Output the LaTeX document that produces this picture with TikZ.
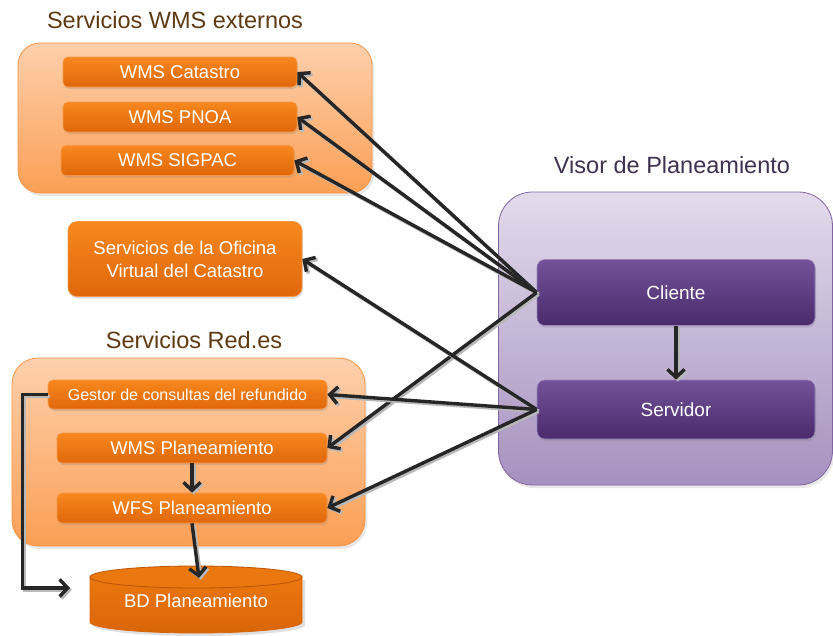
\documentclass[tikz,border=0pt]{standalone}
\usepackage{fontspec}
\setmainfont{Liberation Sans}
\usetikzlibrary{arrows.meta,shadows}
\definecolor{ornTop}{HTML}{F7881E}
\definecolor{ornBot}{HTML}{E0670A}
\definecolor{ornLine}{HTML}{F59A4A}
\definecolor{grpTop}{HTML}{FDD0AC}
\definecolor{grpBot}{HTML}{FB9F55}
\definecolor{grpLine}{HTML}{F79646}
\definecolor{purGTop}{HTML}{E3DBEC}
\definecolor{purGBot}{HTML}{A591BF}
\definecolor{purGLine}{HTML}{8064A2}
\definecolor{purTop}{HTML}{73529A}
\definecolor{purBot}{HTML}{4A2A6B}
\definecolor{purLine}{HTML}{9C83BA}
\definecolor{brownT}{HTML}{5E3A12}
\definecolor{purT}{HTML}{3F3150}
\definecolor{arrowC}{HTML}{262626}
\definecolor{cylBody}{HTML}{EB770F}
\definecolor{cylDark}{HTML}{D9650A}
\tikzset{
  ornbox/.style={rectangle, rounded corners=5pt, draw=ornLine, line width=0.6pt,
    top color=ornTop, bottom color=ornBot, text=white, inner sep=0pt,
    font=\fontsize{18.5}{23}\selectfont, align=center,
    drop shadow={shadow xshift=1pt, shadow yshift=-2pt, opacity=0.25}},
  purbox/.style={rectangle, rounded corners=8pt, draw=purLine, line width=0.6pt,
    top color=purTop, bottom color=purBot, text=white, inner sep=0pt,
    font=\fontsize{19}{23}\selectfont,
    drop shadow={shadow xshift=1pt, shadow yshift=-2pt, opacity=0.25}},
  grporn/.style={rectangle, rounded corners=22pt, draw=grpLine, line width=0.8pt,
    top color=grpTop, bottom color=grpBot, inner sep=0pt,
    drop shadow={shadow xshift=2pt, shadow yshift=-3pt, opacity=0.18}},
  grppur/.style={rectangle, rounded corners=34pt, draw=purGLine, line width=0.8pt,
    top color=purGTop, bottom color=purGBot, inner sep=0pt,
    drop shadow={shadow xshift=2pt, shadow yshift=-3pt, opacity=0.18}},
  ttl/.style={font=\fontsize{23.5}{28}\selectfont, text=brownT, inner sep=0pt},
  conn/.style={draw=arrowC, line width=3.4pt,
    -{Straight Barb[length=8pt, width=17pt]},
    preaction={draw=black!28, line width=3.6pt,
      transform canvas={xshift=1.8pt, yshift=-1.8pt}}},
}
\begin{document}
\begin{tikzpicture}[x=1pt, y=-1pt]
\useasboundingbox[fill=white] (0,0) rectangle (833,635);

% ---- group: Servicios WMS externos
\node[ttl] (t1) at (175,20) {Servicios WMS externos};
\node[grporn, minimum width=354pt, minimum height=150pt] (g1) at (195,118) {};
\node[ornbox, minimum width=234pt, minimum height=30pt] (cat) at (180,72) {WMS Catastro};
\node[ornbox, minimum width=234pt, minimum height=30pt] (pnoa) at (180,117) {WMS PNOA};
\node[ornbox, minimum width=233pt, minimum height=30pt] (sig) at (177.5,160.5) {WMS SIGPAC};

% ---- Oficina Virtual
\node[ornbox, rounded corners=9pt, minimum width=234pt, minimum height=75pt] (ofi) at (185,259)
  {Servicios de la Oficina\\Virtual del Catastro};

% ---- group: Servicios Red.es
\node[ttl] (t2) at (194,340) {Servicios Red.es};
\node[grporn, minimum width=353pt, minimum height=188pt, rounded corners=26pt] (g2) at (188.5,452) {};
\node[ornbox, font=\fontsize{16}{19}\selectfont, minimum width=279pt, minimum height=29pt] (ges) at (187.5,394.5) {Gestor de consultas del refundido};
\node[ornbox, minimum width=270pt, minimum height=30pt] (wms) at (192,448) {WMS Planeamiento};
\node[ornbox, minimum width=270pt, minimum height=30pt] (wfs) at (192,508) {WFS Planeamiento};

% ---- BD Planeamiento (cylinder)
\fill[black!20, opacity=0.6] (93,580) -- (93,625) arc[start angle=180, end angle=0, x radius=106, y radius=11] -- (305,580) -- cycle;
\path[draw=cylDark, line width=0.8pt, top color=cylBody, bottom color=cylDark]
  (90,577) -- (90,622) arc[start angle=180, end angle=0, x radius=106, y radius=11] -- (302,577) -- cycle;
\path[draw=cylDark!85!black, line width=0.8pt, fill=cylBody] (196,577) ellipse[x radius=106, y radius=11];
\node[text=white, font=\fontsize{18.5}{23}\selectfont, inner sep=0pt] (bd) at (196,601) {BD Planeamiento};
\coordinate (bdtop) at (199,578);
\coordinate (bdin) at (70,588);

% ---- group: Visor de Planeamiento
\node[ttl, text=purT] (t3) at (672,165) {Visor de Planeamiento};
\node[grppur, minimum width=334pt, minimum height=293pt] (g3) at (665.5,338.5) {};
\node[purbox, minimum width=278pt, minimum height=66pt] (cli) at (676,292.5) {Cliente};
\node[purbox, minimum width=278pt, minimum height=59pt] (ser) at (676,409.5) {Servidor};

% ---- connectors
\draw[conn] (cli.west) -- (cat.east);
\draw[conn] (cli.west) -- (pnoa.east);
\draw[conn] (cli.west) -- (sig.east);
\draw[conn] (cli.west) -- (wms.east);
\draw[conn] (ser.west) -- (ofi.east);
\draw[conn] (ser.west) -- (ges.east);
\draw[conn] (ser.west) -- (wfs.east);
\draw[conn] (cli.south) -- (ser.north);
\draw[conn] (wms.south) -- (wfs.north);
\draw[conn] (wfs.south) -- (bdtop);
\draw[conn] (ges.west) -- ++(-25,0) |- (bdin);
\end{tikzpicture}
\end{document}
